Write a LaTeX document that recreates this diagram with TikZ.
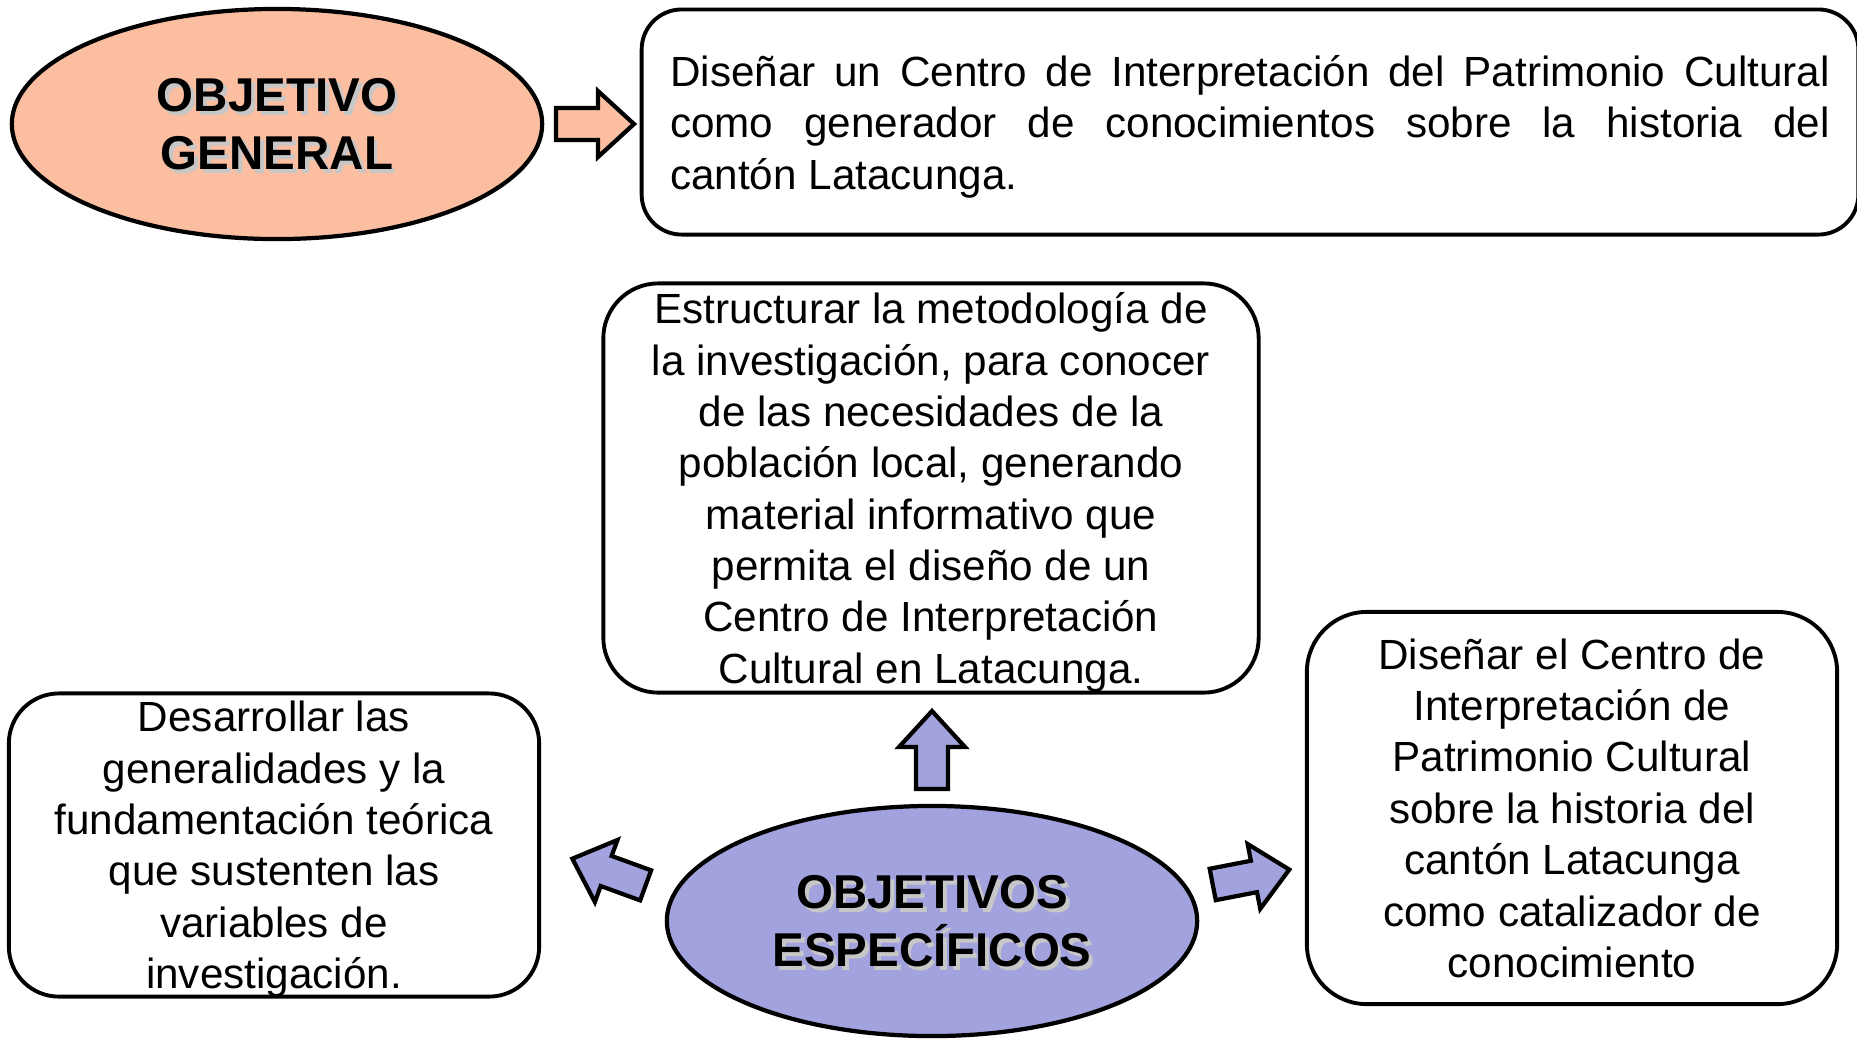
\documentclass[tikz,border=0pt]{standalone}
\usepackage{fontspec}
\setmainfont{Liberation Sans}
\usetikzlibrary{shapes.geometric}
\definecolor{salmon}{RGB}{251,190,160}
\definecolor{lavender}{RGB}{162,162,222}
\newcommand{\shadowed}[1]{\rlap{\textcolor{black!22}{\kern1.1pt\raisebox{-1.1pt}{#1}}}#1}
\hbadness=10000

\begin{document}
\begin{tikzpicture}[x=0.01cm, y=-0.01cm,
    objbox/.style={draw, line width=1.1pt, align=center, inner sep=0pt,
        font=\fontsize{12}{14.6}\selectfont, text depth=-1.5pt},
    objoval/.style={ellipse, draw, line width=1.2pt, minimum width=5.3cm,
        minimum height=2.3cm, align=center, inner sep=0pt, text depth=-1.2pt,
        font=\fontsize{13.5}{16.5}\selectfont\bfseries},
    arrowline/.style={line width=1.2pt},
    pics/blockarrow/.style={code={
        \filldraw[arrowline] (-39,-16) -- (3,-16) -- (3,-33) -- (39,0) -- (3,33) -- (3,16) -- (-39,16) -- cycle;
    }}]
\useasboundingbox (0,0) rectangle (1857,1038);

% objetivo general
\node[objoval, fill=salmon] (general) at (277,124) {\shadowed{OBJETIVO}\\\shadowed{GENERAL}};
\node[objbox, rounded corners=0.4cm, minimum width=12.16cm, minimum height=2.25cm,
      text width=11.59cm, align=justify, text depth=29pt] (gentext) at (1250,122)
      {Diseñar un Centro de Interpretación del Patrimonio Cultural\linebreak
       como generador de conocimientos sobre la historia del\linebreak
       cantón Latacunga.};
\pic[fill=salmon] at (595,124) {blockarrow};

% objetivos especificos
\node[objoval, fill=lavender] (especificos) at (932,921) {\shadowed{OBJETIVOS}\\\shadowed{ESPECÍFICOS}};
\node[objbox, rounded corners=0.55cm, minimum width=6.55cm, minimum height=4.09cm] (metodo) at (931,488)
      {Estructurar la metodología de\\la investigación, para conocer\\de las necesidades de la\\
       población local, generando\\material informativo que\\permita el diseño de un\\
       Centro de Interpretación\\Cultural en Latacunga.};
\node[objbox, rounded corners=0.5cm, minimum width=5.3cm, minimum height=3.03cm] (teoria) at (274,845)
      {Desarrollar las\\generalidades y la\\fundamentación teórica\\que sustenten las\\
       variables de\\investigación.};
\node[objbox, rounded corners=0.6cm, minimum width=5.3cm, minimum height=3.92cm, text depth=-2pt] (diseno) at (1572,808)
      {Diseñar el Centro de\\Interpretación de\\Patrimonio Cultural\\sobre la historia del\\
       cantón Latacunga\\como catalizador de\\conocimiento};

\pic[fill=lavender, rotate=90] at (932,750) {blockarrow};
\pic[fill=lavender, rotate=160] at (609,872) {blockarrow};
\pic[fill=lavender, rotate=11] at (1251,877) {blockarrow};
\end{tikzpicture}
\end{document}
